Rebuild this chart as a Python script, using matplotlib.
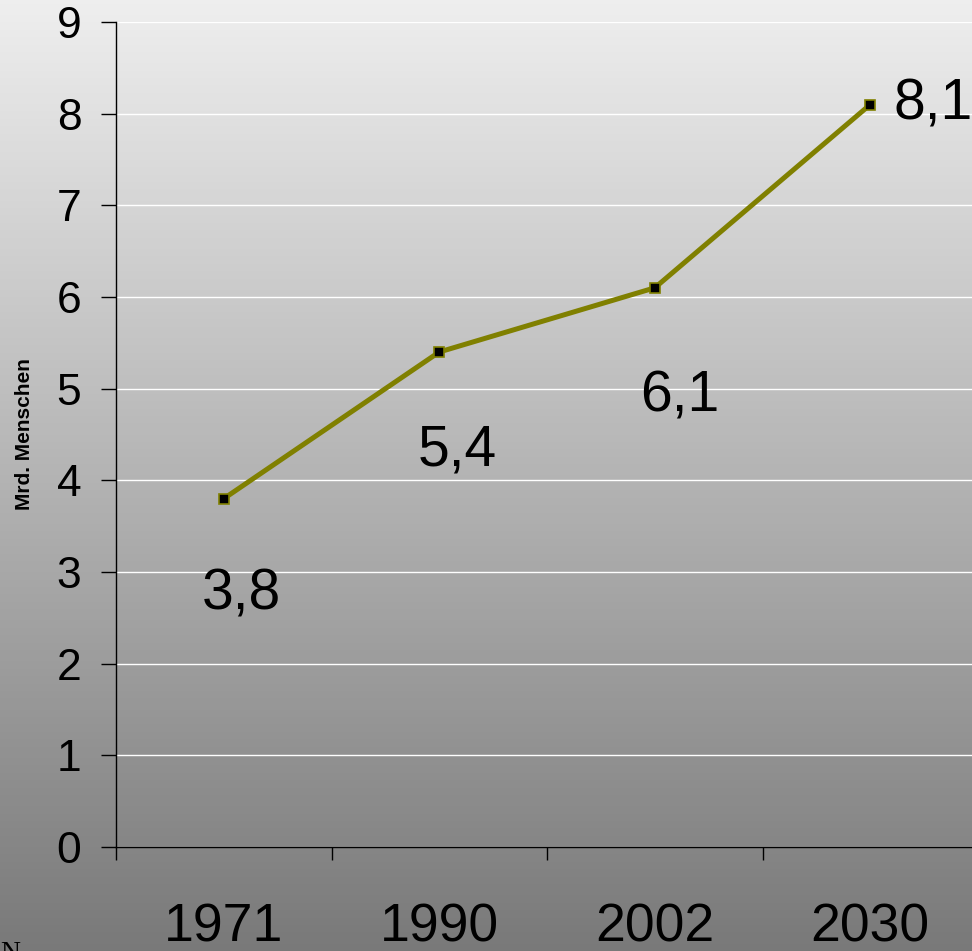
import numpy as np
import matplotlib
matplotlib.use("Agg")
import matplotlib.pyplot as plt

years = ["1971", "1990", "2002", "2030"]
population = [3.8, 5.4, 6.1, 8.1]
value_labels = ["3,8", "5,4", "6,1", "8,1"]
y_ticks = list(range(0, 10))

plt.rcParams['font.family'] = ['Liberation Sans', 'DejaVu Sans']

W, H = 972, 951
fig = plt.figure(figsize=(W / 100, H / 100), dpi=100)

# vertical grey gradient behind everything
bg = fig.add_axes([0, 0, 1, 1], zorder=0)
grad = np.linspace(0, 1, 256).reshape(-1, 1)
top = np.array([0.935, 0.935, 0.935])
bottom = np.array([0.475, 0.475, 0.475])
img = top + (bottom - top) * grad[..., None]
bg.imshow(img, aspect='auto', extent=[0, 1, 0, 1], origin='upper')
bg.set_axis_off()

left_px, right_px, top_px, bot_px = 116, 978, 22, 847
ax = fig.add_axes([left_px / W, (H - bot_px) / H,
                   (right_px - left_px) / W, (bot_px - top_px) / H], zorder=1)
ax.patch.set_alpha(0)

x = np.arange(len(years))
ax.set_xlim(-0.5, len(years) - 0.5)
ax.set_ylim(0, 9)

ax.set_yticks(y_ticks)
ax.yaxis.grid(True, color='white', linewidth=1.0)
ax.set_axisbelow(True)

ax.plot(x, population, color='#808000', linewidth=3.6, marker='s',
        markersize=7, markerfacecolor='black', markeredgecolor='#808000',
        markeredgewidth=1.2, zorder=3)

# year labels centered on categories, tick marks between categories
ax.set_xticks(x - 0.5)
ax.set_xticklabels([])
ax.set_xticks(x, minor=True)
ax.set_xticklabels(years, minor=True, fontsize=38.5)
ax.tick_params(axis='x', which='minor', length=0, pad=40)
ax.tick_params(axis='x', which='major', length=9, width=1, direction='out')
ax.tick_params(axis='y', labelsize=32, length=11, width=1, pad=14)

for s in ['top', 'right']:
    ax.spines[s].set_visible(False)
for s in ['left', 'bottom']:
    ax.spines[s].set_linewidth(1.0)

ax.set_ylabel("Mrd. Menschen", fontsize=15, fontweight='bold')
ax.yaxis.set_label_coords((34 - left_px) / (right_px - left_px), 0.5)

offsets = [(13, -69), (13, -71), (18, -78), (45, 0)]
for xi, yi, lab, off in zip(x, population, value_labels, offsets):
    ax.annotate(lab, (xi, yi), xytext=off, textcoords='offset points',
                ha='center', va='center', fontsize=41, annotation_clip=False)

fig.text(0 / W, (H - 941) / H, "N", fontsize=20, family='Liberation Serif',
         ha='left', va='top')

fig.savefig("out.png", dpi=100)
